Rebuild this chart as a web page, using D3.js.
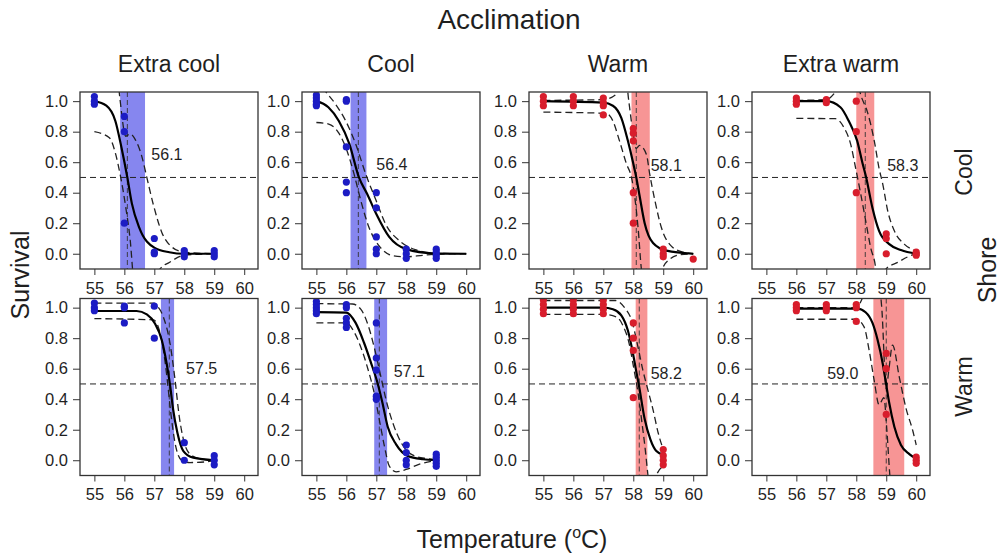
<!DOCTYPE html>
<html>
<head>
<meta charset="utf-8">
<script src="https://cdn.jsdelivr.net/npm/d3@7"></script>
<style>
  body { margin: 0; background: #fff; }
  text { font-family: "Liberation Sans", Arial, sans-serif; fill: #1f1f1f; }
</style>
</head>
<body>
<svg id="chart" width="1003" height="558"></svg>
<script>
// ---- data ------------------------------------------------------------
const shoreRows = ["Cool", "Warm"];
const acclimationCols = ["Extra cool", "Cool", "Warm", "Extra warm"];
const tempTicks = [55, 56, 57, 58, 59, 60];
const survivalTicks = [0, 0.2, 0.4, 0.6, 0.8, 1.0];

// panels in row order: cool shore (4 acclimations), then warm shore
const lt50 = [56.1, 56.4, 58.1, 58.3, 57.5, 57.1, 58.2, 59.0];
const lt50Lower = [55.86, 56.14, 57.94, 58.0, 57.22, 56.93, 58.08, 58.57];
const lt50Upper = [56.69, 56.67, 58.55, 58.6, 57.66, 57.36, 58.47, 59.6];

// observed survival: [temperature, proportion surviving]
const observed = [
  [[55,1.03],[55,1.0],[55,0.98],[56,0.9],[56,0.8],[56,0.2],[57,0.1],[57,0.01],[57,0.0],
   [58,0.02],[58,0.0],[58,-0.02],[59,0.02],[59,0.0],[59,-0.02]],
  [[55,1.04],[55,1.02],[55,1.0],[55,0.98],[55,0.97],[56,1.01],[56,1.0],[56,0.7],[56,0.47],[56,0.4],
   [57,0.4],[57,0.3],[57,0.11],[57,0.03],[57,0.0],[58,0.03],[58,0.0],[58,-0.03],
   [59,0.03],[59,0.01],[59,-0.01],[59,-0.03]],
  [[55,1.03],[55,1.0],[55,0.97],[56,1.03],[56,1.0],[56,0.97],[57,1.02],[57,0.99],[57,0.97],[57,0.91],
   [58,0.82],[58,0.79],[58,0.74],[58,0.4],[58,0.2],[59,0.03],[59,0.0],[59,-0.02],[60,-0.035]],
  [[56,1.02],[56,1.0],[56,0.98],[57,1.01],[57,0.99],[58,1.0],[58,0.8],[58,0.4],
   [59,0.13],[59,0.1],[59,0.0],[60,0.01],[60,0.0],[60,-0.01]],
  [[55,1.03],[55,1.0],[55,0.98],[56,1.01],[56,1.0],[56,0.9],[57,1.01],[57,0.8],
   [58,0.115],[58,0.0],[59,0.03],[59,0.0],[59,-0.03]],
  [[55,1.04],[55,1.02],[55,1.0],[55,0.98],[55,0.96],[56,1.02],[56,1.0],[56,0.93],[56,0.9],[56,0.87],
   [57,0.9],[57,0.67],[57,0.59],[57,0.42],[57,0.4],[58,0.1],[58,0.05],[58,0.0],[58,-0.03],
   [59,0.04],[59,0.02],[59,0.0],[59,-0.02],[59,-0.04]],
  [[55,1.05],[55,1.02],[55,0.99],[55,0.96],[56,1.05],[56,1.02],[56,0.99],[56,0.96],
   [57,1.05],[57,1.02],[57,0.99],[57,0.96],[58,0.9],[58,0.8],[58,0.72],[58,0.41],
   [59,0.07],[59,0.03],[59,0.0],[59,-0.03]],
  [[56,1.02],[56,1.0],[56,0.98],[57,1.02],[57,1.0],[57,0.98],[58,1.02],[58,1.0],[58,0.91],
   [59,0.7],[59,0.6],[59,0.3],[60,0.02],[60,0.0],[60,-0.02]]
];

// fitted survival curves
const fitted = [
  [[55,1.0],[55.4,0.97],[55.7,0.87],[55.9,0.7],[56.1,0.5],[56.25,0.33],[56.5,0.17],[57,0.04],[57.5,0.01],[58,0.0],[59,0.0]],
  [[55,1.0],[55.4,0.96],[55.75,0.87],[56.1,0.72],[56.42,0.5],[56.7,0.39],[57,0.26],[57.43,0.11],[58,0.03],[58.9,0.003],[60,0.0]],
  [[55,1.0],[57,0.99],[57.32,0.97],[57.6,0.89],[57.82,0.74],[57.99,0.6],[58.1,0.5],[58.21,0.38],[58.38,0.2],[58.66,0.07],[59.11,0.02],[60,0.0]],
  [[56,1.0],[57,1.0],[57.47,0.96],[57.75,0.87],[58.03,0.74],[58.2,0.6],[58.33,0.5],[58.54,0.3],[58.76,0.15],[59.1,0.063],[59.49,0.024],[60,0.0]],
  [[55,0.978],[56.41,0.978],[56.75,0.956],[57.02,0.896],[57.25,0.787],[57.41,0.636],[57.52,0.5],[57.63,0.33],[57.77,0.18],[57.97,0.06],[58.3,0.017],[59,0.0]],
  [[55,0.971],[56.0,0.968],[56.31,0.9],[56.59,0.77],[56.82,0.64],[57.05,0.5],[57.2,0.38],[57.38,0.22],[57.66,0.104],[58.05,0.028],[58.56,0.0065],[59,0.0]],
  [[55,1.0],[57,1.0],[57.32,0.99],[57.6,0.95],[57.82,0.85],[57.99,0.7],[58.12,0.56],[58.18,0.5],[58.38,0.27],[58.57,0.137],[58.77,0.06],[59,0.035]],
  [[56,0.994],[58.03,0.994],[58.31,0.97],[58.54,0.9],[58.71,0.79],[58.88,0.636],[58.99,0.506],[59.1,0.375],[59.27,0.22],[59.49,0.1],[59.77,0.04],[60,0.01]]
];

// upper confidence limit of the fitted curve
const ciUpper = [
  [[55,1.3],[55.7,1.3],[55.85,1.02],[56.05,0.77],[56.19,0.785],[56.36,0.75],[56.58,0.64],[56.75,0.5],[56.97,0.32],[57.25,0.14],[57.58,0.045],[58,0.01],[59,0.0]],
  [[55,1.15],[55.3,1.065],[55.64,0.98],[55.98,0.87],[56.31,0.72],[56.65,0.52],[56.99,0.35],[57.32,0.19],[57.77,0.085],[58.33,0.025],[59,0.003],[60,0.0]],
  [[55,1.005],[57,1.01],[57.4,1.04],[57.6,1.15],[57.75,1.15],[57.85,1.0],[58.0,0.78],[58.1,0.69],[58.21,0.71],[58.44,0.65],[58.55,0.52],[58.72,0.35],[58.94,0.17],[59.27,0.05],[59.66,0.01],[60,0.0]],
  [[56,1.005],[57,1.01],[57.5,1.1],[58.0,1.15],[58.15,1.04],[58.37,0.93],[58.6,0.74],[58.76,0.56],[58.88,0.46],[59.05,0.28],[59.27,0.15],[59.6,0.063],[60,0.02]],
  [[55,1.03],[57,1.03],[57.08,1.015],[57.3,0.94],[57.52,0.77],[57.69,0.53],[57.83,0.29],[57.97,0.137],[58.19,0.04],[58.52,0.01],[59,0.0]],
  [[55,1.026],[56.2,1.024],[56.48,0.99],[56.7,0.9],[56.93,0.74],[57.15,0.55],[57.32,0.4],[57.55,0.245],[57.83,0.115],[58.22,0.033],[58.67,0.011],[59,0.005]],
  [[55,1.047],[57.4,1.047],[57.71,1.0],[57.94,0.92],[58.16,0.74],[58.32,0.59],[58.49,0.46],[58.66,0.33],[58.83,0.18],[59,0.07]],
  [[56,1.0],[58,1.0],[58.3,1.1],[58.7,1.2],[58.85,1.0],[59.0,0.47],[59.08,0.58],[59.21,0.755],[59.44,0.54],[59.66,0.34],[59.89,0.19],[60,0.1]]
];

// lower confidence limit of the fitted curve
const ciLower = [
  [[55,0.8],[55.5,0.76],[55.7,0.66],[55.86,0.52],[56.05,0.3],[56.2,0.08],[56.3,-0.15],[56.35,-0.2],[57.05,-0.2],[57.19,-0.1],[57.5,-0.057],[58,-0.01],[59,0.0]],
  [[55,0.86],[55.41,0.85],[55.75,0.79],[56.03,0.67],[56.26,0.52],[56.48,0.35],[56.76,0.17],[57.1,0.05],[57.55,-0.013],[58,-0.02],[58.56,-0.01],[59.45,0.0],[60,0.0]],
  [[55,0.928],[57.1,0.92],[57.32,0.87],[57.54,0.74],[57.77,0.59],[57.94,0.5],[58.05,0.37],[58.16,0.17],[58.27,-0.1],[58.35,-0.2],[58.9,-0.2],[58.97,-0.1],[59.22,-0.035],[59.55,-0.007],[60,0.0]],
  [[56,0.887],[57.3,0.885],[57.58,0.83],[57.81,0.72],[57.98,0.56],[58.15,0.39],[58.31,0.22],[58.48,0.04],[58.65,-0.1],[58.7,-0.2],[58.95,-0.2],[58.99,-0.1],[59.38,-0.057],[59.72,-0.02],[60,0.0]],
  [[55,0.928],[56.97,0.92],[57.17,0.85],[57.32,0.7],[57.43,0.53],[57.55,0.31],[57.69,0.115],[57.91,0.0],[58.19,-0.015],[58.75,-0.01],[59,0.0]],
  [[55,0.9],[56,0.9],[56.26,0.84],[56.54,0.71],[56.76,0.57],[56.93,0.44],[57.1,0.267],[57.27,0.093],[57.43,-0.037],[57.66,-0.076],[58.0,-0.06],[58.44,-0.026],[59,0.0]],
  [[55,0.956],[57,0.956],[57.43,0.94],[57.65,0.885],[57.86,0.766],[58.01,0.61],[58.16,0.44],[58.29,0.245],[58.4,0.07],[58.49,-0.1],[58.55,-0.2],[58.72,-0.2],[58.77,-0.1],[59,-0.04]],
  [[56,0.924],[58,0.924],[58.26,0.874],[58.43,0.72],[58.6,0.52],[58.76,0.364],[58.92,0.41],[59.02,0.2],[59.12,-0.1],[59.2,-0.25]]
];

// ---- layout ----------------------------------------------------------
const panelLeft = [80, 302, 529, 752];
const panelTop = [92, 298.5];
const panelW = 178, panelH = 177;
// where each LT50 value label sits, in axis units (temperature, survival)
const labelAt = [[57.42,0.615],[57.52,0.55],[59.1,0.54],[59.55,0.54],[58.58,0.567],[58.1,0.545],[59.1,0.535],[57.55,0.535]];

const dotColor = ["#1c1cc4", "#1c1cc4", "#d81d2c", "#d81d2c"];
const bandColor = ["#8686ef", "#8686ef", "#f79595", "#f79595"];

const svg = d3.select("#chart");

const x = d3.scaleLinear().domain([54.52, 60.46]).range([0, panelW]);
const y = d3.scaleLinear().domain([-0.1, 1.06]).range([panelH, 0]);

const line = d3.line()
  .x(d => x(d[0]))
  .y(d => y(d[1]))
  .curve(d3.curveMonotoneX);

svg.append("defs").append("clipPath").attr("id", "frameClip")
  .append("rect").attr("x", 0).attr("y", 0).attr("width", panelW).attr("height", panelH);

shoreRows.forEach((shore, r) => {
  acclimationCols.forEach((accl, c) => {
    const i = r * acclimationCols.length + c;
    const g = svg.append("g").attr("transform", `translate(${panelLeft[c]},${panelTop[r]})`);
    const plot = g.append("g").attr("clip-path", "url(#frameClip)");

    // LT50 confidence band
    plot.append("rect")
      .attr("x", x(lt50Lower[i])).attr("y", 0)
      .attr("width", x(lt50Upper[i]) - x(lt50Lower[i])).attr("height", panelH)
      .attr("fill", bandColor[c]);

    // 50% survival reference
    plot.append("line")
      .attr("x1", 0).attr("x2", panelW).attr("y1", y(0.5)).attr("y2", y(0.5))
      .attr("stroke", "#222").attr("stroke-width", 1).attr("stroke-dasharray", "6,4");

    // LT50 marker
    plot.append("line")
      .attr("x1", x(lt50[i])).attr("x2", x(lt50[i])).attr("y1", 0).attr("y2", panelH)
      .attr("stroke", "#333").attr("stroke-width", 0.9).attr("stroke-dasharray", "5,3");

    // confidence limits
    [ciUpper[i], ciLower[i]].forEach(ci => {
      plot.append("path").attr("d", line(ci))
        .attr("fill", "none").attr("stroke", "#222")
        .attr("stroke-width", 1.3).attr("stroke-dasharray", "7,4");
    });

    // fitted curve
    plot.append("path").attr("d", line(fitted[i]))
      .attr("fill", "none").attr("stroke", "#000").attr("stroke-width", 2.2);

    // observations
    plot.selectAll("circle.obs").data(observed[i]).join("circle")
      .attr("class", "obs")
      .attr("cx", d => x(d[0])).attr("cy", d => y(d[1])).attr("r", 3.6)
      .attr("fill", dotColor[c]);

    // LT50 value label
    g.append("text")
      .attr("x", x(labelAt[i][0])).attr("y", y(labelAt[i][1]))
      .attr("text-anchor", "middle").attr("font-size", 16)
      .text(lt50[i].toFixed(1));

    // axes
    const yAxis = g.append("g")
      .call(d3.axisLeft(y).tickValues(survivalTicks).tickFormat(d3.format(".1f")).tickSize(7).tickPadding(5));
    const xAxis = g.append("g").attr("transform", `translate(0,${panelH})`)
      .call(d3.axisBottom(x).tickValues(tempTicks).tickFormat(d3.format("d")).tickSize(6).tickPadding(7));
    [yAxis, xAxis].forEach(a => {
      a.select(".domain").remove();
      a.selectAll(".tick line").attr("stroke", "#333");
      a.selectAll("text").attr("font-size", 16.5).attr("fill", "#1f1f1f")
        .attr("font-family", '"Liberation Sans", Arial, sans-serif');
    });

    // frame
    g.append("rect").attr("width", panelW).attr("height", panelH)
      .attr("fill", "none").attr("stroke", "#333").attr("stroke-width", 1.3);

    // column titles
    if (r === 0) {
      svg.append("text")
        .attr("x", panelLeft[c] + panelW / 2).attr("y", 71.5)
        .attr("text-anchor", "middle").attr("font-size", 23)
        .text(accl);
    }
  });

  // row labels
  const rowMid = panelTop[r] + (r === 0 ? 80 : 88);
  svg.append("text")
    .attr("transform", `translate(972,${rowMid}) rotate(-90)`)
    .attr("text-anchor", "middle").attr("font-size", 23)
    .text(shore);
});

svg.append("text")
  .attr("x", 509).attr("y", 29).attr("text-anchor", "middle").attr("font-size", 28)
  .text("Acclimation");

svg.append("text")
  .attr("transform", "translate(996,270) rotate(-90)")
  .attr("text-anchor", "middle").attr("font-size", 25)
  .text("Shore");

svg.append("text")
  .attr("transform", "translate(29,275) rotate(-90)")
  .attr("text-anchor", "middle").attr("font-size", 25)
  .text("Survival");

const xt = svg.append("text")
  .attr("x", 512).attr("y", 548).attr("text-anchor", "middle").attr("font-size", 25);
xt.append("tspan").text("Temperature (");
xt.append("tspan").attr("font-size", 16).attr("dy", -10).text("o");
xt.append("tspan").attr("dy", 10).text("C)");
</script>
</body>
</html>
